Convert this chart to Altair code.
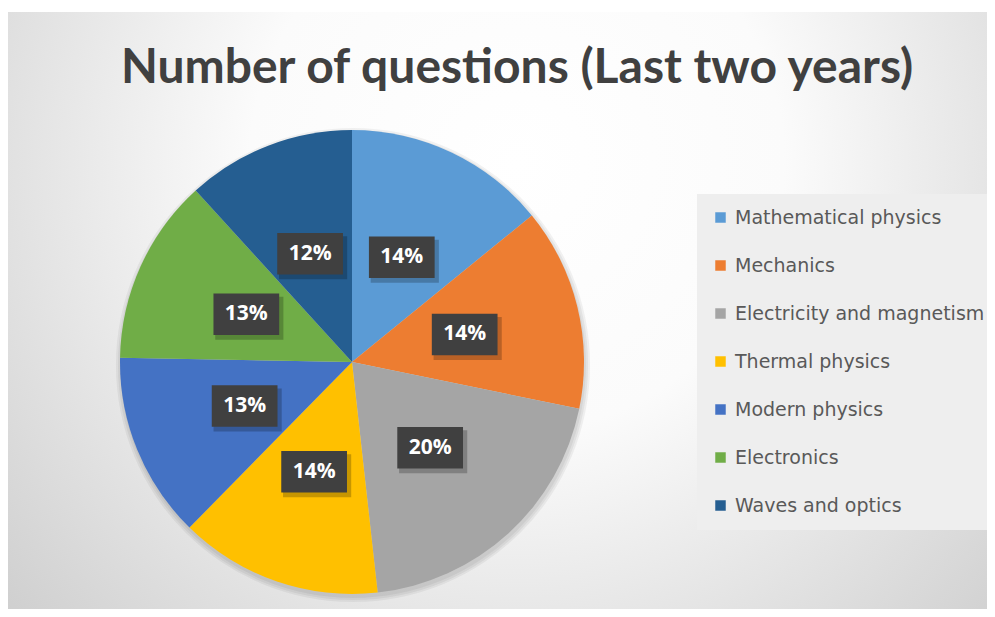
import altair as alt
import pandas as pd

# ---- data ----
categories = [
    "Mathematical physics",
    "Mechanics",
    "Electricity and magnetism",
    "Thermal physics",
    "Modern physics",
    "Electronics",
    "Waves and optics",
]
counts = [24, 24, 34, 24, 22, 22, 20]
colors = ["#5B9BD5", "#ED7D31", "#A5A5A5", "#FFC000", "#4472C4", "#70AD47", "#255E91"]
title_text = "Number of questions (Last two years)"

df = pd.DataFrame({"topic": categories, "n": counts, "order": list(range(len(categories)))})

# ---- layout constants ----
W, H = 979, 597
CX, CY = 344, 350
R = 232
LR = 116

bg_grad = alt.RadialGradient(
    gradient="radial",
    x1=0.52, y1=0.35, r1=0.0,
    x2=0.52, y2=0.35, r2=0.78,
    stops=[
        alt.GradientStop(color="#ffffff", offset=0.0),
        alt.GradientStop(color="#fbfbfb", offset=0.35),
        alt.GradientStop(color="#c6c6c6", offset=1.0),
    ],
)
one = pd.DataFrame({"k": [0]})
background = alt.Chart(one).mark_rect(fill=bg_grad, strokeWidth=0).encode(
    x=alt.value(0), x2=alt.value(W), y=alt.value(0), y2=alt.value(H)
)

pie = alt.Chart(df).mark_arc(outerRadius=R, strokeWidth=0).encode(
    theta=alt.Theta("n:Q", stack=True),
    color=alt.Color(
        "topic:N",
        sort=categories,
        scale=alt.Scale(domain=categories, range=colors),
        legend=alt.Legend(
            title=None,
            orient="none",
            legendX=689,
            legendY=182,
            fillColor="#eeeeee",
            padding=14,
            symbolType="square",
            symbolSize=110,
            symbolStrokeWidth=0,
            labelFont="DejaVu Sans",
            labelFontSize=19,
            labelColor="#595959",
            rowPadding=28,
            labelOffset=5,
            labelLimit=400,
        ),
    ),
    order=alt.Order("order:Q"),
    x=alt.value(CX),
    y=alt.value(CY),
)

pie_shadow = alt.layer(*[
    alt.Chart(one).mark_arc(
        outerRadius=R + d, theta=0, theta2=6.2832, color="black", opacity=0.05
    ).encode(x=alt.value(CX + 1), y=alt.value(CY + 3))
    for d in (1, 3, 5)
])

labels_base = alt.Chart(df).transform_joinaggregate(
    total="sum(n)"
).transform_window(
    cum="sum(n)", sort=[alt.SortField("order")]
).transform_calculate(
    mid="(datum.cum - datum.n / 2) / datum.total * 2 * PI",
    label="round(datum.n / datum.total * 100) + '%'",
).transform_calculate(
    bx=f"{CX} + {LR} * sin(datum.mid)",
    by=f"{CY} - {LR} * cos(datum.mid)",
).transform_calculate(
    sx="datum.bx + 3",
    sy="datum.by + 4",
)

box_path = "M-1.585,-1L1.585,-1L1.585,1L-1.585,1Z"

box_shadow = labels_base.mark_point(
    shape=box_path, size=1850, filled=True, color="black", opacity=0.22, strokeWidth=0
).encode(
    x=alt.X("sx:Q", scale=None, axis=None),
    y=alt.Y("sy:Q", scale=None, axis=None),
)

boxes = labels_base.mark_point(
    shape=box_path, size=1720, filled=True, color="#404040", opacity=1, strokeWidth=0
).encode(
    x=alt.X("bx:Q", scale=None, axis=None),
    y=alt.Y("by:Q", scale=None, axis=None),
)

texts = labels_base.mark_text(
    font="Open Sans", fontWeight="bold", fontSize=21, color="white",
    align="center", baseline="middle"
).encode(
    x=alt.X("bx:Q", scale=None, axis=None),
    y=alt.Y("by:Q", scale=None, axis=None),
    text="label:N",
)

title = alt.Chart(pd.DataFrame({"t": [title_text]})).mark_text(
    font="Lato", fontWeight="bold", fontSize=48, color="#404040",
    align="center", baseline="alphabetic"
).encode(text="t:N", x=alt.value(509), y=alt.value(71))

chart = alt.layer(background, pie_shadow, pie, box_shadow, boxes, texts, title).properties(
    width=W,
    height=H,
    autosize=alt.AutoSizeParams(type="none"),
    padding={"left": 0, "top": 4, "right": 0, "bottom": 0},
    background="white",
).configure_view(stroke="transparent")

chart.save("out.html", embed_options={"renderer": "svg", "actions": False})
